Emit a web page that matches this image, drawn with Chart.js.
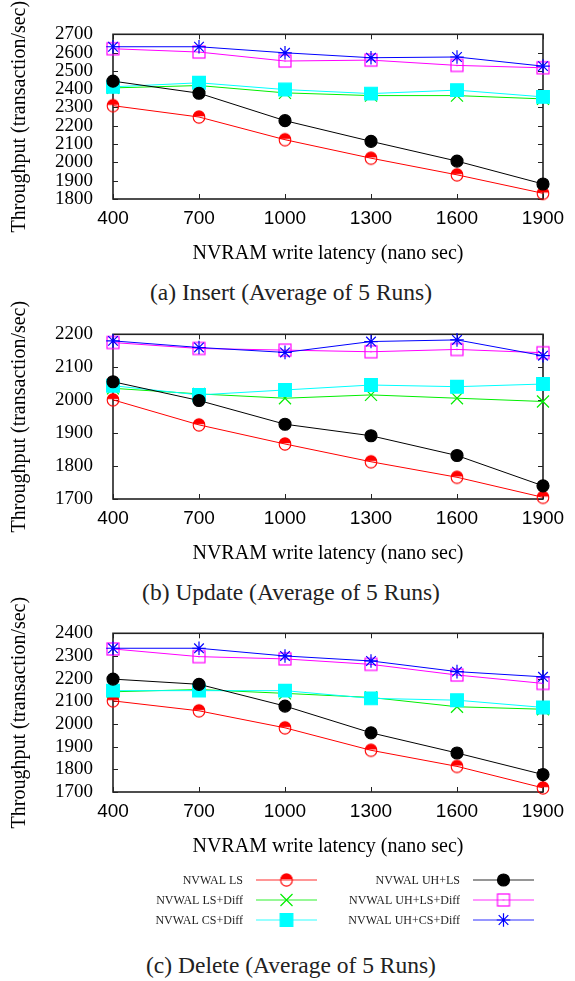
<!DOCTYPE html>
<html>
<head>
<meta charset="utf-8">
<script src="https://cdn.jsdelivr.net/npm/chart.js@4.4.0/dist/chart.umd.min.js"></script>
<style>
  body { margin: 0; background: #fff; }
  #wrap { position: relative; width: 575px; height: 981px; overflow: hidden; }
  canvas { position: absolute; left: 0; }
  .cap { position: absolute; left: 0; width: 582px; text-align: center; font: 23.5px "Liberation Serif", serif; color: #222; line-height: 28px; }
</style>
</head>
<body>
<div id="wrap">
  <canvas id="insertChart" width="575" height="270" style="top:0px"></canvas>
  <div class="cap" style="top:278px">(a) Insert (Average of 5 Runs)</div>
  <canvas id="updateChart" width="575" height="270" style="top:300px"></canvas>
  <div class="cap" style="top:578px">(b) Update (Average of 5 Runs)</div>
  <canvas id="deleteChart" width="575" height="273" style="top:590px"></canvas>
  <canvas id="legend" width="575" height="70" style="top:865px"></canvas>
  <div class="cap" style="top:951px">(c) Delete (Average of 5 Runs)</div>
</div>
<script>
// DATA
const latency = [400, 700, 1000, 1300, 1600, 1900];
const seriesNames = ['NVWAL LS', 'NVWAL LS+Diff', 'NVWAL CS+Diff', 'NVWAL UH+LS', 'NVWAL UH+LS+Diff', 'NVWAL UH+CS+Diff'];

const insertLS       = [2310, 2248, 2124, 2023, 1932, 1831];
const insertLSDiff   = [2407, 2420, 2380, 2365, 2365, 2347];
const insertCSDiff   = [2413, 2435, 2398, 2376, 2395, 2358];
const insertUHLS     = [2444, 2378, 2228, 2115, 2007, 1882];
const insertUHLSDiff = [2621, 2603, 2554, 2559, 2530, 2517];
const insertUHCSDiff = [2632, 2632, 2599, 2572, 2576, 2526];

const updateLS       = [2001, 1925, 1867, 1813, 1766, 1705];
const updateLSDiff   = [2036, 2019, 2006, 2016, 2006, 1996];
const updateCSDiff   = [2044, 2016, 2031, 2046, 2041, 2049];
const updateUHLS     = [2056, 1999, 1927, 1892, 1832, 1740];
const updateUHLSDiff = [2175, 2157, 2152, 2147, 2154, 2144];
const updateUHCSDiff = [2180, 2160, 2145, 2178, 2183, 2135];

const deleteLS       = [2102, 2058, 1983, 1884, 1813, 1718];
const deleteLSDiff   = [2142, 2152, 2135, 2117, 2076, 2065];
const deleteCSDiff   = [2147, 2147, 2147, 2113, 2105, 2073];
const deleteUHLS     = [2198, 2175, 2079, 1961, 1872, 1777];
const deleteUHLSDiff = [2331, 2297, 2287, 2263, 2216, 2179];
const deleteUHCSDiff = [2334, 2334, 2300, 2278, 2231, 2208];

// y ranges of the three panels
const insertRange = [1800, 2700];
const updateRange = [1700, 2200];
const deleteRange = [1700, 2400];

Chart.defaults.color = '#000';
Chart.defaults.animation = false;

// MARKERS
function mk(size) {
  const c = document.createElement('canvas');
  c.width = c.height = size;
  return c;
}
function halfCircle() {
  const c = mk(16), g = c.getContext('2d');
  g.fillStyle = '#f00';
  g.beginPath(); g.arc(8, 7.3, 6, Math.PI, 2 * Math.PI); g.closePath(); g.fill();
  g.strokeStyle = '#f00'; g.lineWidth = 1.1;
  g.beginPath(); g.arc(8, 8.3, 5.8, 0, 2 * Math.PI); g.stroke();
  return c;
}
function openSquare() {
  const c = mk(16), g = c.getContext('2d');
  g.strokeStyle = '#f0f'; g.lineWidth = 1.2;
  g.strokeRect(2, 2, 12, 12);
  g.fillStyle = '#f0f';
  g.fillRect(7.5, 7.5, 1, 1);
  return c;
}
const styles = [
  { color: '#ff0000', point: halfCircle(), r: 6 },
  { color: '#00ee00', point: 'crossRot', r: 8.5 },
  { color: '#00ffff', point: 'rect', r: 9 },
  { color: '#000000', point: 'circle', r: 6 },
  { color: '#ff00ff', point: openSquare(), r: 6 },
  { color: '#0000ff', point: 'star', r: 6.8 }
];

function makeSets(list) {
  return list.map((vals, i) => ({
    label: seriesNames[i],
    data: vals.map((v, k) => ({ x: latency[k], y: v })),
    borderColor: styles[i].color,
    backgroundColor: styles[i].color,
    pointBackgroundColor: styles[i].color,
    pointBorderColor: styles[i].color,
    pointStyle: styles[i].point,
    pointRadius: styles[i].r,
    pointHoverRadius: styles[i].r,
    pointBorderWidth: 1.2,
    borderWidth: 1,
    tension: 0,
    clip: false,
    order: 5 - i
  }));
}

// border + inward ticks on all four sides
const frame = {
  id: 'frame',
  beforeDatasetsDraw(chart) {
    const { ctx, chartArea: a, scales: { x, y } } = chart;
    ctx.save();
    ctx.strokeStyle = '#222';
    ctx.lineWidth = 1;
    ctx.beginPath();
    y.ticks.forEach(t => {
      const py = Math.round(y.getPixelForValue(t.value)) + 0.5;
      ctx.moveTo(a.left, py); ctx.lineTo(a.left + 5, py);
      ctx.moveTo(a.right, py); ctx.lineTo(a.right - 5, py);
    });
    x.ticks.forEach(t => {
      const px = Math.round(x.getPixelForValue(t.value)) + 0.5;
      ctx.moveTo(px, a.bottom); ctx.lineTo(px, a.bottom - 5);
      ctx.moveTo(px, a.top); ctx.lineTo(px, a.top + 5);
    });
    ctx.stroke();
    ctx.lineWidth = 1.6;
    ctx.strokeRect(a.left, a.top, a.right - a.left, a.bottom - a.top);
    ctx.restore();
  }
};

function panel(id, range, list, padTop) {
  return new Chart(document.getElementById(id), {
    type: 'line',
    data: { datasets: makeSets(list) },
    plugins: [frame],
    options: {
      responsive: false,
      layout: { padding: { top: padTop, left: 0, right: 32, bottom: 0 } },
      plugins: { legend: { display: false }, tooltip: { enabled: false } },
      scales: {
        x: {
          type: 'linear', min: 400, max: 1900,
          grid: { display: false }, border: { display: false },
          ticks: { stepSize: 300, padding: 0, maxRotation: 0, autoSkip: false, callback: v => v,
                   font: { family: 'Liberation Sans', size: 19 } },
          title: { display: true, text: 'NVRAM write latency (nano sec)', padding: { top: 0, bottom: 4 },
                   font: { family: 'Liberation Serif', size: 20 } },
          afterFit: s => { s.height = 71; }
        },
        y: {
          min: range[0], max: range[1],
          grid: { display: false }, border: { display: false },
          ticks: { stepSize: 100, padding: 12, autoSkip: false, callback: v => v,
                   font: { family: 'Liberation Serif', size: 19 } },
          title: { display: true, text: 'Throughput (transaction/sec)', padding: { top: 8, bottom: 0 },
                   font: { family: 'Liberation Serif', size: 20 } },
          afterFit: s => { s.width = 113; }
        }
      }
    }
  });
}

panel('insertChart', insertRange,
  [insertLS, insertLSDiff, insertCSDiff, insertUHLS, insertUHLSDiff, insertUHCSDiff], 34.3);
panel('updateChart', updateRange,
  [updateLS, updateLSDiff, updateCSDiff, updateUHLS, updateUHLSDiff, updateUHCSDiff], 34.3);
panel('deleteChart', deleteRange,
  [deleteLS, deleteLSDiff, deleteCSDiff, deleteUHLS, deleteUHLSDiff, deleteUHCSDiff], 43.3);

// LEGEND (gnuplot style: label right aligned, then sample line with marker)
const lg = document.getElementById('legend').getContext('2d');
lg.font = '12px "Liberation Serif"';
lg.textAlign = 'right';
lg.textBaseline = 'middle';
seriesNames.forEach((name, i) => {
  const col = Math.floor(i / 3), row = i % 3;
  const textRight = col ? 460 : 243;
  const x0 = col ? 473 : 256;
  const y = 15 + row * 20;
  const s = styles[i];
  lg.fillStyle = '#222';
  lg.fillText(name, textRight, y + 1);
  lg.save();
  lg.globalAlpha = 0.55;
  lg.strokeStyle = s.color;
  lg.lineWidth = 1.6;
  lg.beginPath(); lg.moveTo(x0, y); lg.lineTo(x0 + 61, y); lg.stroke();
  lg.restore();
  const cx = x0 + 30.5;
  lg.save();
  lg.fillStyle = s.color; lg.strokeStyle = s.color; lg.lineWidth = 1.2;
  if (typeof s.point !== 'string') {
    lg.drawImage(s.point, cx - s.point.width / 2, y - s.point.height / 2);
  } else {
    Chart.helpers.drawPoint(lg, { pointStyle: s.point, radius: s.r, borderWidth: 1.2, rotation: 0 }, cx, y);
  }
  lg.restore();
});
</script>
</body>
</html>
